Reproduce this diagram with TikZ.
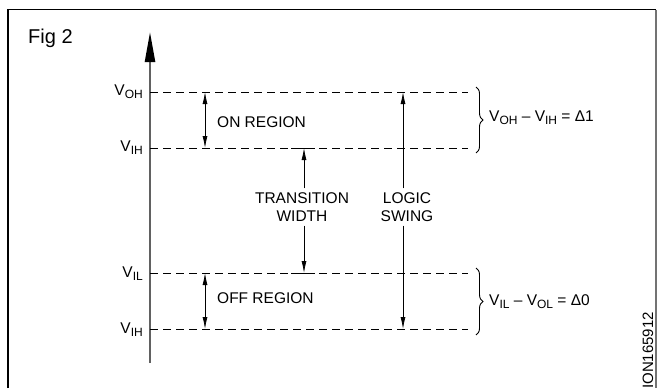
\documentclass[tikz,border=0pt]{standalone}
\usepackage{fontspec}
\setmainfont{Liberation Sans}
\usetikzlibrary{arrows.meta,decorations.pathreplacing}
\newcommand\lvlsub[1]{\raisebox{-3pt}{\fontsize{12}{12}\selectfont #1}}
\newcommand\rsub[1]{\raisebox{-3pt}{\fontsize{12}{12}\selectfont #1}}
\begin{document}
\begin{tikzpicture}[x=1pt,y=-1pt,
  lvl/.style={line width=0.9pt, dash pattern=on 8pt off 5pt},
  dimarrow/.style={line width=0.8pt, -{Latex[length=12pt,width=5pt]}},
  ddimarrow/.style={line width=0.8pt, {Latex[length=12pt,width=5pt]}-{Latex[length=12pt,width=5pt]}},
  txt/.style={font=\fontsize{15.5}{18.5}\selectfont, inner sep=0pt},
  lbl/.style={txt, anchor=base east},
  brc/.style={line width=0.9pt, decorate, decoration={brace, amplitude=7pt}},
  axisline/.style={line width=2.3pt, draw=black!62, -{Triangle[length=30pt,width=10pt,color=black]}}
]
\useasboundingbox (0,0) rectangle (660,388);
% frame
\draw[line width=1.5pt] (8,388) -- (8,9.5) -- (656,9.5);
\draw[line width=2pt, draw=black!55] (656,9.5) -- (656,388);
\node[font=\fontsize{20}{24}\selectfont, inner sep=0pt, anchor=base west] (fig) at (28,43) {Fig 2};
% axis
\coordinate (ax0) at (150,363);
\coordinate (ax1) at (150,32);
\draw[axisline] (ax0) -- (ax1);
% level lines
\coordinate (oh0) at (150,92);  \coordinate (oh1) at (468,92);
\coordinate (ih0) at (150,148); \coordinate (ih1) at (468,148);
\coordinate (il0) at (150,273); \coordinate (il1) at (468,273);
\coordinate (ol0) at (150,329); \coordinate (ol1) at (468,329);
\draw[lvl] (oh0) -- (oh1);
\draw[lvl] (ih0) -- (ih1);
\draw[lvl] (il0) -- (il1);
\draw[lvl] (ol0) -- (ol1);
\draw[line width=0.9pt] (291,148) -- (315,148);
\draw[line width=0.9pt] (291,273) -- (315,273);
% left labels
\node[lbl] (loh) at (143,95) {V\lvlsub{OH}};
\node[lbl] (lih) at (143,151) {V\lvlsub{IH}};
\node[lbl] (lil) at (143,277) {V\lvlsub{IL}};
\node[lbl] (lih2) at (143,333) {V\lvlsub{IH}};
% ON / OFF region
\coordinate (on0) at (205,92);  \coordinate (on1) at (205,148);
\coordinate (off0) at (205,273); \coordinate (off1) at (205,329);
\draw[ddimarrow] (on0) -- (on1);
\draw[ddimarrow] (off0) -- (off1);
\node[txt, anchor=base west] (ontxt) at (217,127) {ON REGION};
\node[txt, anchor=base west] (offtxt) at (217,303.5) {OFF REGION};
% transition width
\node[txt, align=center, outer sep=4pt] (tw) at (302,207) {TRANSITION\\WIDTH};
\coordinate (twt) at (304,148);
\coordinate (twb) at (304,273);
\draw[dimarrow] (tw.north -| twt) -- (twt);
\draw[dimarrow] (tw.south -| twb) -- (twb);
% logic swing
\node[txt, align=center, outer sep=4pt] (ls) at (407,207) {LOGIC\\SWING};
\coordinate (lst) at (403,92);
\coordinate (lsb) at (403,329);
\draw[dimarrow] (ls.north -| lst) -- (lst);
\draw[dimarrow] (ls.south -| lsb) -- (lsb);
% braces
\coordinate (b1a) at (476,87);  \coordinate (b1b) at (476,153);
\coordinate (b0a) at (476,268); \coordinate (b0b) at (476,335);
\draw[brc] (b1a) -- (b1b);
\draw[brc] (b0a) -- (b0b);
\node[txt, anchor=base west] (d1) at (489,121) {V\rsub{OH} -- V\rsub{IH} = Δ1};
\node[txt, anchor=base west] (d0) at (489,305) {V\rsub{IL} -- V\rsub{OL} = Δ0};
% code
\node[font=\fontsize{15}{15}\selectfont, inner sep=0pt, rotate=90, anchor=base west] (code) at (653,389) {ION165912};
\end{tikzpicture}
\end{document}
